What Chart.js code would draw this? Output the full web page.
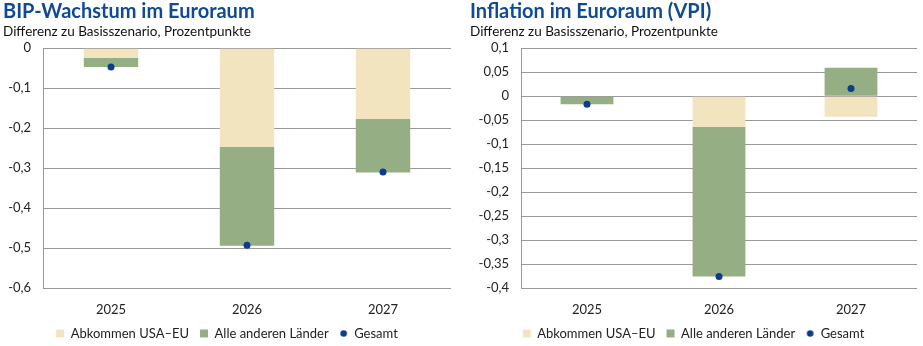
<!DOCTYPE html>
<html>
<head>
<meta charset="utf-8">
<script src="https://cdn.jsdelivr.net/npm/chart.js@4/dist/chart.umd.min.js"></script>
<style>
  body { margin: 0; background: #fff; }
  .box { position: absolute; top: 0; height: 346px; }
  #boxBip { left: 0; width: 461px; }
  #boxVpi { left: 467px; width: 456px; }
</style>
</head>
<body>
<div class="box" id="boxBip"><canvas id="bip"></canvas></div>
<div class="box" id="boxVpi"><canvas id="vpi"></canvas></div>
<script>
const years = ['2025', '2026', '2027']
const seriesNames = ['Abkommen USA\u2013EU', 'Alle anderen L\u00e4nder', 'Gesamt']

// BIP, Differenz zum Basisszenario in Prozentpunkten
const bipAbkommen = [-0.024, -0.247, -0.177]
const bipAndere = [-0.023, -0.247, -0.134]
const bipGesamt = [-0.047, -0.493, -0.310]

// VPI
const vpiAbkommen = [0, -0.064, -0.043]
const vpiAndere = [-0.017, -0.312, 0.059]
const vpiGesamt = [-0.017, -0.376, 0.016]

const colBeige = '#f3e4c0'
const colGreen = '#96ae84'
const colDot = '#0a3d8c'
const colTitle = '#0f4a93'
const colGrid = '#9a9a9a'
const colText = '#222222'

Chart.defaults.font.family = 'Lato'
Chart.defaults.font.size = 13
Chart.defaults.color = colText

// small dot for the legend entry "Gesamt"
function legendDot() {
    let c = document.createElement('canvas')
    c.width = 9
    c.height = 9
    let g = c.getContext('2d')
    g.fillStyle = colDot
    g.beginPath()
    g.arc(4.5, 4.5, 3.3, 0, Math.PI * 2)
    g.fill()
    return c
}
const dotImage = legendDot()

function fmt(v) {
    let r = Math.round(v * 100) / 100
    return String(r).replace('.', ',')
}

function makeChart(id, title, abkommen, andere, gesamt, yMin, yMax, step, axisW, padRight) {
    return new Chart(document.getElementById(id), {
        type: 'bar',
        data: {
            labels: years,
            datasets: [{
                label: seriesNames[0],
                data: abkommen,
                backgroundColor: colBeige,
                stack: 'bars',
                order: 1
            },
            {
                label: seriesNames[1],
                data: andere,
                backgroundColor: colGreen,
                stack: 'bars',
                order: 1
            },
            {
                type: 'line',
                label: seriesNames[2],
                data: gesamt,
                showLine: false,
                pointRadius: 3.5,
                pointHoverRadius: 3.5,
                pointBackgroundColor: colDot,
                pointBorderWidth: 0,
                borderColor: colDot,
                backgroundColor: colDot,
                stack: 'total',
                order: 0
            }]
        },
        options: {
            responsive: true,
            maintainAspectRatio: false,
            animation: false,
            layout: { padding: { left: 3, right: padRight, top: 0, bottom: -4 } },
            datasets: { bar: { barPercentage: 1, categoryPercentage: 0.4 } },
            scales: {
                x: {
                    stacked: true,
                    grid: { display: false },
                    border: { display: false },
                    ticks: { padding: 6, color: colText },
                    afterFit: function (s) { s.height = 28 }
                },
                y: {
                    stacked: true,
                    min: yMin,
                    max: yMax,
                    grid: { color: colGrid, drawTicks: false },
                    border: { color: colGrid },
                    ticks: {
                        stepSize: step,
                        padding: 12,
                        color: colText,
                        callback: function (value) { return fmt(value) }
                    },
                    afterFit: function (s) { s.width = axisW }
                }
            },
            plugins: {
                title: {
                    display: true,
                    text: title,
                    align: 'start',
                    color: colTitle,
                    font: { size: 20, weight: 'bold' },
                    padding: { top: 0, bottom: 0 }
                },
                subtitle: {
                    display: true,
                    text: 'Differenz zu Basisszenario, Prozentpunkte',
                    align: 'start',
                    color: '#111',
                    font: { size: 13.5 },
                    padding: { top: 0, bottom: 8 }
                },
                legend: {
                    position: 'bottom',
                    labels: {
                        usePointStyle: true,
                        boxWidth: 8,
                        boxHeight: 8,
                        padding: 11,
                        color: colText,
                        sort: function (a, b) { return a.datasetIndex - b.datasetIndex },
                        generateLabels: function (chart) {
                            let items = Chart.defaults.plugins.legend.labels.generateLabels(chart)
                            for (const it of items) {
                                it.pointStyle = it.datasetIndex == 2 ? dotImage : 'rect'
                                it.lineWidth = 0
                            }
                            return items
                        }
                    }
                },
                tooltip: { enabled: false }
            }
        }
    })
}

makeChart('bip', 'BIP-Wachstum im Euroraum', bipAbkommen, bipAndere, bipGesamt, -0.6, 0, 0.1, 40, 10)
makeChart('vpi', 'Inflation im Euroraum (VPI)', vpiAbkommen, vpiAndere, vpiGesamt, -0.4, 0.1, 0.05, 51, 6)
</script>
</body>
</html>
